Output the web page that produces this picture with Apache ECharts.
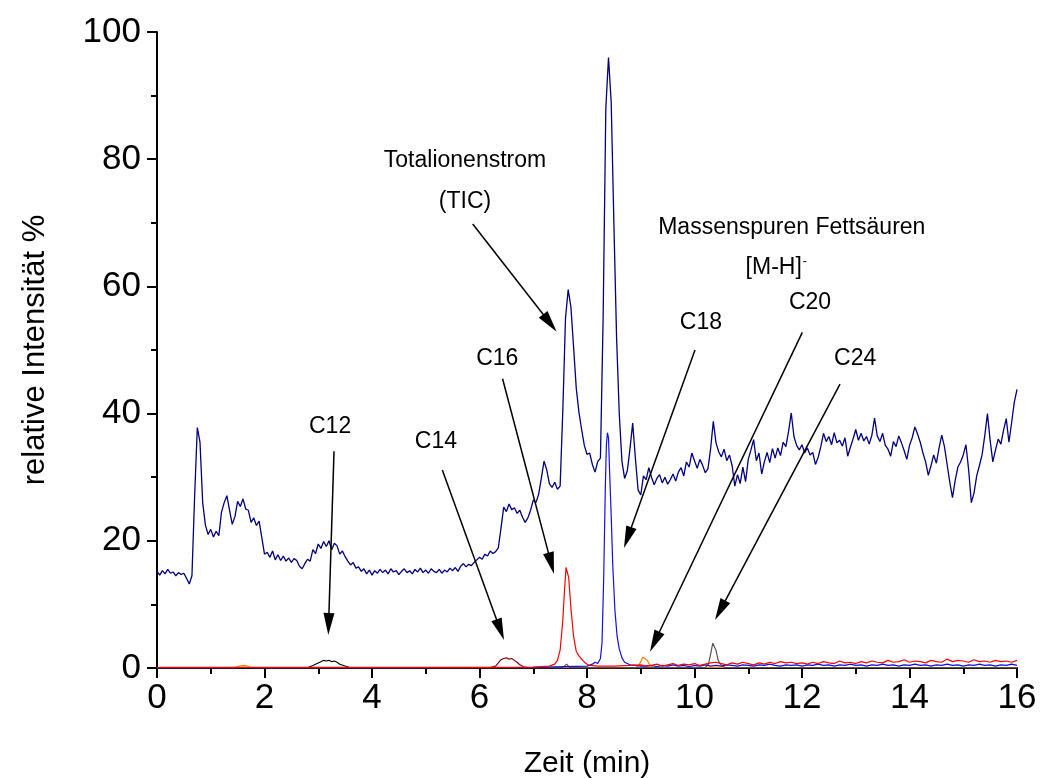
<!DOCTYPE html>
<html>
<head>
<meta charset="utf-8">
<title>Chromatogramm Fettsäuren</title>
<script src="https://cdn.jsdelivr.net/npm/echarts@6/dist/echarts.min.js"></script>
<style>
  html, body { margin: 0; padding: 0; background: #fff; }
  #chart { width: 1041px; height: 778px; }
</style>
</head>
<body>
<div id="chart"></div>
<script>
// ---- data ---------------------------------------------------------------
// Totalionenstrom (TIC), sampled every 0.05 min from 0 to 16 min
const ticStart = 0;
const ticStep = 0.05;
const ticValues = [
  15.2,14.6,15.3,14.8,15.5,14.9,15.1,14.5,15.0,14.7,14.9,14.1,13.2,14.5,27.0,37.8,35.5,26.0,22.5,21.0,
  21.8,20.6,21.5,20.8,24.5,26.0,27.1,24.8,22.6,23.8,26.2,25.4,26.6,25.0,24.8,22.9,23.6,22.4,23.1,20.5,
  17.9,18.2,17.4,18.4,17.0,17.8,16.9,17.6,16.8,17.3,16.6,17.2,16.9,16.0,15.6,16.4,17.1,16.8,18.6,18.0,
  19.5,18.8,19.9,19.1,20.0,18.6,19.6,19.2,17.9,18.4,17.5,16.8,16.2,16.6,15.7,15.9,15.2,15.6,14.8,15.4,
  14.6,15.3,14.9,15.5,15.0,15.4,14.8,15.6,15.1,15.3,14.7,15.2,15.6,15.0,15.3,14.8,15.5,15.1,15.7,15.0,
  15.4,14.9,15.6,15.2,15.0,15.5,14.9,15.4,15.1,15.7,15.3,15.8,15.2,16.0,16.4,15.9,16.3,16.1,16.6,17.0,
  17.4,17.1,17.9,17.6,18.4,18.0,18.3,18.9,22.0,25.3,24.6,25.8,24.9,25.2,24.3,24.8,23.7,22.9,23.6,24.8,
  26.4,26.0,27.3,29.8,32.5,31.2,29.0,28.4,29.2,28.1,28.6,40.5,55.0,59.5,56.8,50.5,44.0,40.2,37.5,35.0,
  33.6,33.8,32.0,30.8,32.5,33.0,55.0,88.0,96.0,89.0,70.0,52.0,40.0,32.5,29.8,31.0,34.5,38.5,33.0,28.0,
  27.2,30.2,29.6,31.5,30.0,28.8,29.8,30.4,29.1,30.0,28.9,29.6,30.5,29.4,30.8,31.5,30.2,32.4,31.6,33.8,
  32.6,31.4,32.8,31.9,30.7,31.3,34.5,38.8,35.4,34.0,33.2,34.4,32.6,33.5,31.8,28.6,30.4,29.0,31.6,29.3,
  32.8,34.3,35.9,32.6,33.8,30.5,32.4,33.9,32.3,34.5,33.0,34.6,33.4,35.5,34.8,37.2,40.1,36.4,35.0,34.3,
  35.1,33.8,34.6,33.5,33.9,32.0,33.1,34.8,36.9,35.6,36.4,35.1,37.0,35.4,35.8,34.9,36.2,33.3,34.7,36.0,
  37.5,35.8,36.9,35.7,36.4,35.2,36.6,39.3,36.5,35.6,36.9,35.0,34.4,33.3,35.6,34.8,36.5,35.4,34.2,32.8,
  35.0,36.2,37.9,36.8,35.5,33.8,32.4,30.3,31.8,33.5,32.2,34.6,36.6,34.8,32.0,29.2,26.8,29.5,31.6,32.4,
  33.5,35.1,31.2,26.0,27.5,30.2,31.8,33.5,36.5,40.0,35.8,32.4,34.3,36.0,35.2,37.4,39.2,35.5,38.6,41.8,
  43.8
];

// Massenspuren [M-H]- der Fettsäuren, as [Zeit, Intensität]
const c12Trace = [
  [0,0.05],[2.8,0.05],[2.9,0.4],[3.0,0.8],[3.05,1.0],[3.1,1.2],[3.15,1.1],[3.2,1.2],[3.25,1.0],
  [3.3,1.1],[3.35,0.9],[3.4,0.6],[3.5,0.3],[3.6,0.05],[16,0.05]
];
const c14Trace = [
  [0,0.05],[6.2,0.05],[6.3,0.3],[6.35,0.8],[6.4,1.3],[6.45,1.5],[6.5,1.6],[6.55,1.4],[6.6,1.5],
  [6.65,1.2],[6.7,0.9],[6.75,0.5],[6.82,0.2],[6.9,0.05],[16,0.05]
];
const c16Trace = [
  [0,0.1],[2,0.1],[4,0.1],[6,0.1],[7,0.15],[7.3,0.3],[7.4,0.6],[7.45,1.2],[7.5,2.8],[7.55,7.5],
  [7.58,12.0],[7.61,15.8],[7.63,16.0],[7.66,14.2],[7.7,9.5],[7.75,5.0],[7.8,2.6],[7.85,1.9],
  [7.88,2.1],[7.92,1.2],[7.98,0.7],[8.05,0.4],[8.2,0.3],[8.5,0.3],[8.8,0.4],[9.0,0.5],[9.1,0.3],
  [9.2,0.4],[9.3,0.6],[9.4,0.3],[9.5,0.5],[9.6,0.7],[9.7,0.4],[9.8,0.6],[9.9,0.5],[10.0,0.7],
  [10.1,0.4],[10.2,0.6],[10.3,0.8],[10.4,0.9],[10.5,0.7],[10.6,0.5],[10.7,0.8],[10.8,0.6],[10.9,0.9],
  [11.0,0.7],[11.1,0.5],[11.2,0.8],[11.3,0.6],[11.4,0.9],[11.5,0.7],[11.6,1.0],[11.7,0.8],[11.8,0.9],
  [11.9,0.7],[12.0,0.8],[12.1,0.6],[12.2,0.9],[12.3,0.7],[12.4,1.0],[12.5,0.8],[12.6,0.7],[12.7,1.1],
  [12.8,0.8],[12.9,0.9],[13.0,0.7],[13.1,1.0],[13.2,0.8],[13.3,1.1],[13.4,0.9],[13.5,0.8],[13.6,1.2],
  [13.7,0.9],[13.8,1.0],[13.9,1.3],[14.0,0.9],[14.1,1.1],[14.2,1.0],[14.3,0.8],[14.4,1.2],[14.5,1.0],
  [14.6,0.9],[14.7,1.4],[14.8,1.0],[14.9,1.2],[15.0,1.1],[15.1,0.9],[15.2,1.3],[15.3,1.0],[15.4,1.1],
  [15.5,0.9],[15.6,1.2],[15.7,1.0],[15.8,1.1],[15.9,0.9],[16.0,1.2]
];
const c18Trace = [
  [0,0.05],[4,0.05],[7,0.1],[8.0,0.3],[8.1,0.6],[8.15,0.9],[8.2,0.7],[8.25,1.5],[8.28,4.0],
  [8.31,14.0],[8.34,28.0],[8.36,35.0],[8.38,37.0],[8.4,36.2],[8.42,31.0],[8.45,24.0],[8.48,16.0],
  [8.52,9.0],[8.56,5.0],[8.6,3.0],[8.65,1.6],[8.7,0.9],[8.8,0.5],[8.9,0.4],[9.0,0.3],
  [9.1,0.3],[9.2,0.4],[9.3,0.2],[9.4,0.4],[9.5,0.3],[9.6,0.5],[9.7,0.3],[9.8,0.4],[9.9,0.2],
  [10.0,0.4],[10.1,0.3],[10.2,0.5],[10.3,0.3],[10.4,0.4],[10.5,0.3],[10.6,0.5],[10.7,0.4],[10.8,0.3],
  [10.9,0.5],[11.0,0.4],[11.1,0.3],[11.2,0.5],[11.3,0.4],[11.4,0.6],[11.5,0.4],[11.6,0.3],[11.7,0.5],
  [11.8,0.4],[11.9,0.5],[12.0,0.3],[12.1,0.5],[12.2,0.4],[12.3,0.6],[12.4,0.4],[12.5,0.5],[12.6,0.3],
  [12.7,0.5],[12.8,0.4],[12.9,0.6],[13.0,0.4],[13.1,0.5],[13.2,0.3],[13.3,0.5],[13.4,0.4],[13.5,0.6],
  [13.6,0.4],[13.7,0.5],[13.8,0.3],[13.9,0.5],[14.0,0.4],[14.1,0.6],[14.2,0.4],[14.3,0.5],[14.4,0.3],
  [14.5,0.5],[14.6,0.4],[14.7,0.6],[14.8,0.4],[14.9,0.5],[15.0,0.3],[15.1,0.5],[15.2,0.4],[15.3,0.6],
  [15.4,0.4],[15.5,0.5],[15.6,0.3],[15.7,0.5],[15.8,0.4],[15.9,0.6],[16.0,0.4]
];
const c20Trace = [
  [0,0.05],[1.45,0.05],[1.55,0.35],[1.65,0.4],[1.75,0.05],[8.9,0.05],[8.97,0.5],[9.0,1.0],
  [9.04,1.7],[9.08,1.5],[9.12,1.2],[9.16,0.6],[9.22,0.1],[16,0.05]
];
const c24Trace = [
  [0,0.05],[7.55,0.05],[7.62,0.6],[7.68,0.05],[10.2,0.05],[10.26,0.6],[10.3,2.2],[10.34,3.9],
  [10.37,3.6],[10.4,2.8],[10.44,1.2],[10.5,0.4],[10.58,0.05],[16,0.05]
];

// axis settings
const xRange = [0, 16];
const yRange = [0, 100];
const xTickStep = 2;
const yTickStep = 20;

// ---- callouts (label text, position in data units) ----------------------
const calloutTexts = [
  { text: 'Totalionenstrom', at: [5.73, 79.7] },
  { text: '(TIC)', at: [5.73, 73.3] },
  { text: 'Massenspuren Fettsäuren', at: [11.81, 69.3] },
  { text: '[M-H]{sup|-}', at: [11.52, 62.9] },
  { text: 'C12', at: [3.22, 37.9] },
  { text: 'C14', at: [5.19, 35.6] },
  { text: 'C16', at: [6.33, 48.6] },
  { text: 'C18', at: [10.12, 54.3] },
  { text: 'C20', at: [12.15, 57.4] },
  { text: 'C24', at: [12.99, 48.7] }
];
// arrows: tail -> arrowhead centre
const calloutArrows = [
  [[5.874, 69.81], [7.31, 54.25]],
  [[3.293, 34.07], [3.193, 6.92]],
  [[5.308, 31.13], [6.386, 6.03]],
  [[6.429, 45.47], [7.334, 16.45]],
  [[10.009, 50.0], [8.757, 20.5]],
  [[12.006, 52.78], [9.26, 4.12]],
  [[12.707, 44.65], [10.478, 9.07]]
];

// ---- build ---------------------------------------------------------------
const ticTrace = ticValues.map((v, i) => [+(ticStart + i * ticStep).toFixed(2), v]);

const FONT = '"Liberation Sans", Arial, Helvetica, sans-serif';

function trace(name, data, color, width) {
  return {
    id: name, name, type: 'line', data,
    showSymbol: false, symbol: 'none',
    lineStyle: { color, width },
    itemStyle: { color },
    z: 3, silent: true
  };
}

const chart = echarts.init(document.getElementById('chart'), null, { renderer: 'canvas' });

chart.setOption({
  animation: false,
  backgroundColor: '#ffffff',
  grid: { left: 157, right: 24, top: 32, bottom: 110, containLabel: false, outerBoundsMode: 'none' },
  xAxis: {
    type: 'value', min: xRange[0], max: xRange[1], interval: xTickStep,
    name: 'Zeit (min)', nameLocation: 'middle', nameGap: 81,
    nameTextStyle: { fontFamily: FONT, fontSize: 30, color: '#000' },
    axisLine: { show: true, onZero: false, lineStyle: { color: '#000', width: 2 } },
    axisTick: { show: true, inside: false, length: 10, lineStyle: { color: '#000', width: 2 } },
    minorTick: { show: true, splitNumber: 2, length: 6, lineStyle: { color: '#000', width: 2 } },
    axisLabel: { fontFamily: FONT, fontSize: 35, color: '#000', margin: 13 },
    splitLine: { show: false }
  },
  yAxis: {
    type: 'value', min: yRange[0], max: yRange[1], interval: yTickStep,
    name: 'relative Intensität %', nameLocation: 'middle', nameGap: 106, nameRotate: 90,
    nameTextStyle: { fontFamily: FONT, fontSize: 31, color: '#000' },
    axisLine: { show: true, onZero: false, lineStyle: { color: '#000', width: 2 } },
    axisTick: { show: true, inside: false, length: 10, lineStyle: { color: '#000', width: 2 } },
    minorTick: { show: true, splitNumber: 2, length: 6, lineStyle: { color: '#000', width: 2 } },
    axisLabel: { fontFamily: FONT, fontSize: 35, color: '#000', margin: 16 },
    splitLine: { show: false }
  },
  series: [
    trace('TIC', ticTrace, '#000080', 1.3),
    trace('C12', c12Trace, '#000000', 1.1),
    trace('C14', c14Trace, '#8b0000', 1.2),
    trace('C20', c20Trace, '#ff8000', 1.2),
    trace('C24', c24Trace, '#555555', 1.2),
    trace('C18', c18Trace, '#1010e0', 1.2),
    trace('C16', c16Trace, '#ff0000', 1.2),
    {
      id: 'callouts', name: 'callouts', type: 'line', data: [], silent: true, z: 5,
      markLine: {
        silent: true, animation: false,
        symbol: ['none', 'none'],
        lineStyle: { color: '#000', width: 1.5, type: 'solid' },
        label: { show: false },
        emphasis: { disabled: true },
        data: calloutArrows.map(([a, b]) => [{ coord: a }, { coord: b }])
      },
      markPoint: {
        silent: true, animation: false,
        symbol: 'circle', symbolSize: 0,
        itemStyle: { color: 'transparent' },
        label: {
          show: true, position: 'inside', color: '#000',
          fontFamily: FONT, fontSize: 23,
          formatter: p => p.name,
          rich: { sup: { fontFamily: FONT, fontSize: 12, verticalAlign: 'top', padding: [0, 0, 12, 1] } }
        },
        data: calloutTexts.map(c => ({ name: c.text, coord: c.at, value: 0 }))
      }
    },
    {
      id: 'arrowheads', name: 'arrowheads', type: 'scatter', silent: true, z: 6,
      symbol: 'triangle', symbolSize: [11, 22],
      itemStyle: { color: '#000', opacity: 1 },
      data: []
    }
  ]
});

// arrowheads: triangles at each arrow end, turned along the arrow's direction on screen
const heads = calloutArrows.map(([a, b]) => {
  const p0 = chart.convertToPixel({ gridIndex: 0 }, a);
  const p1 = chart.convertToPixel({ gridIndex: 0 }, b);
  const ang = Math.atan2(-(p1[1] - p0[1]), p1[0] - p0[0]) * 180 / Math.PI - 90;
  return { value: b, symbolRotate: ang };
});
chart.setOption({ series: [{ id: 'arrowheads', data: heads }] });
</script>
</body>
</html>
